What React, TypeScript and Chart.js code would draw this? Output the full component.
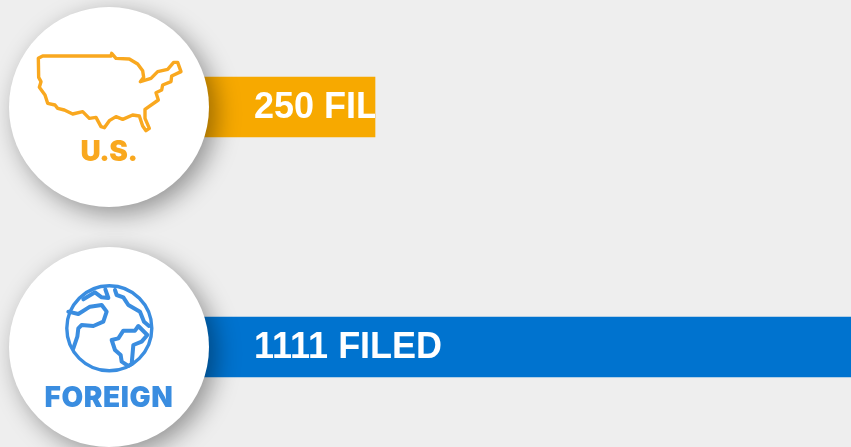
import React, { useEffect, useRef } from "react";
import { Chart, registerables } from "chart.js";

Chart.register(...registerables);

const categories = ["U.S.", "FOREIGN"];
const filed = [250, 1111];
const barColors = ["#f7a900", "#0073cf"];
const iconColors = ["#f9a81f", "#3a8de0"];
const suffix = " FILED";

const usOutline = [[112,175],[125,168],[330,168],[332,160],[345,175],[385,177],[410,192],[425,212],[428,232],[418,245],[450,235],[470,215],[500,208],[518,187],[530,187],[540,215],[512,228],[510,245],[485,255],[482,270],[465,278],[472,300],[432,328],[432,355],[445,385],[435,392],[425,378],[415,348],[395,345],[365,358],[345,350],[325,362],[310,383],[300,380],[285,352],[265,355],[245,335],[215,342],[190,330],[170,325],[162,315],[140,310],[132,285],[115,262],[120,245],[113,232]];
const globeLines = [
  [[250,178],[285,157],[305,172],[325,174],[316,148]],
  [[205,215],[235,222],[270,200],[305,195],[320,215],[310,245],[280,258],[245,255],[235,265],[232,290],[220,325]],
  [[345,150],[350,165],[370,172],[385,195],[420,215],[432,245],[447,258]],
  [[442,285],[415,258],[405,272],[370,272],[355,295],[335,300],[345,330],[362,345],[365,365],[385,378],[395,372],[400,315],[425,305],[442,285]],
];

function trace(ctx: CanvasRenderingContext2D, pts: number[][], ox: number, oy: number, close: boolean) {
  ctx.beginPath();
  pts.forEach(([x, y], i) => {
    const px = ox + x / 3, py = oy + y / 3;
    if (i === 0) ctx.moveTo(px, py); else ctx.lineTo(px, py);
  });
  if (close) ctx.closePath();
  ctx.stroke();
}

const overlay = {
  id: "overlay",
  afterDatasetsDraw(chart: any) {
    const ctx: CanvasRenderingContext2D = chart.ctx;
    const meta = chart.getDatasetMeta(0);
    meta.data.forEach((bar: any, i: number) => {
      const top = bar.y - bar.height / 2;
      ctx.save();
      ctx.beginPath();
      ctx.rect(0, top, bar.x, bar.height);
      ctx.clip();
      ctx.fillStyle = "#ffffff";
      ctx.font = "bold 36px 'Liberation Sans'";
      ctx.textBaseline = "middle";
      ctx.textAlign = "left";
      ctx.fillText(filed[i] + suffix, 254, bar.y + 1);
      ctx.restore();

      const cx = chart.scales.x.getPixelForValue(0), cy = bar.y;
      ctx.save();
      ctx.shadowColor = "rgba(0,0,0,0.38)";
      ctx.shadowBlur = 24;
      ctx.shadowOffsetX = 7;
      ctx.shadowOffsetY = 7;
      ctx.fillStyle = "#ffffff";
      ctx.beginPath();
      ctx.arc(cx, cy, 100, 0, Math.PI * 2);
      ctx.fill();
      ctx.restore();

      ctx.save();
      ctx.strokeStyle = iconColors[i];
      ctx.fillStyle = iconColors[i];
      ctx.lineWidth = 3.4;
      ctx.lineJoin = "round";
      ctx.lineCap = "round";
      const oy = cy - 107;
      if (i === 0) {
        trace(ctx, usOutline, 1, oy, true);
      } else {
        ctx.beginPath();
        ctx.arc(109.3, cy - 18.7, 42.5, 0, Math.PI * 2);
        ctx.stroke();
        ctx.lineWidth = 4;
        globeLines.forEach((l) => trace(ctx, l, 0, oy, false));
      }
      ctx.font = "900 28px Inter";
      (ctx as any).letterSpacing = i === 0 ? "-0.5px" : "0.6px";
      ctx.textAlign = "center";
      ctx.textBaseline = "alphabetic";
      ctx.fillText(categories[i], 109, i === 0 ? cy + 54 : cy + 60);
      ctx.restore();
    });
  },
};

export default function App() {
  const ref = useRef<HTMLCanvasElement>(null);
  useEffect(() => {
    const chart = new Chart(ref.current!, {
      type: "bar",
      data: {
        labels: categories,
        datasets: [{ data: filed, backgroundColor: barColors, barThickness: 60, borderWidth: 0 }],
      },
      options: {
        indexAxis: "y",
        animation: false,
        responsive: false,
        layout: { padding: 0 },
        plugins: { legend: { display: false }, tooltip: { enabled: false } },
        scales: {
          x: { display: false, min: -102.44, max: 697.37 },
          y: { display: false },
        },
      },
      plugins: [overlay],
    });
    return () => chart.destroy();
  }, []);
  return (
    <div style={{ position: "fixed", inset: 0, width: 851, height: 447, overflow: "hidden", background: "#eeeeee" }}>
      <canvas ref={ref} width={851} height={480} style={{ position: "absolute", left: 0, top: -13, width: 851, height: 480 }} />
    </div>
  );
}
